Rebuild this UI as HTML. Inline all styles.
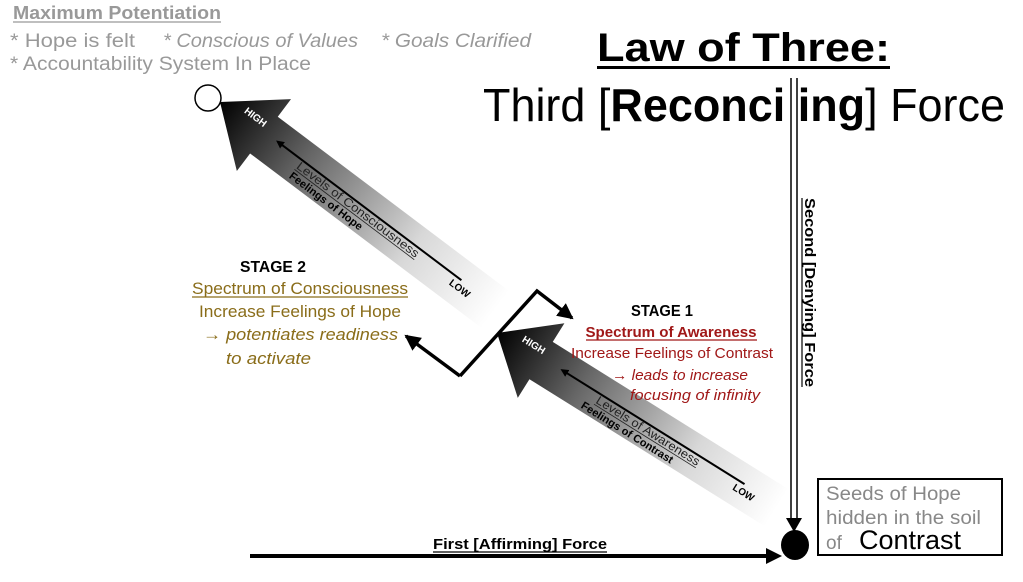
<!DOCTYPE html>
<html><head><meta charset="utf-8"><style>
html,body{margin:0;padding:0;background:#fff;}
svg{display:block;}
text{font-family:"Liberation Sans",sans-serif;}
</style></head><body>
<svg width="1023" height="582" viewBox="0 0 1023 582" xmlns="http://www.w3.org/2000/svg">
<defs>
<linearGradient id="g1" x1="0" y1="0" x2="1" y2="0">
<stop offset="0" stop-color="#000"/><stop offset="0.3" stop-color="#666"/><stop offset="0.7" stop-color="#d8d8d8"/><stop offset="1" stop-color="#fff"/>
</linearGradient>
<marker id="ah" markerWidth="8" markerHeight="8" refX="6" refY="4" orient="auto" markerUnits="userSpaceOnUse"><path d="M0,0 L8,4 L0,8 z" fill="#000"/></marker>
<marker id="ah2" markerWidth="16" markerHeight="16" refX="14" refY="8" orient="auto" markerUnits="userSpaceOnUse"><path d="M0,0 L16,8 L0,16 z" fill="#000"/></marker>
</defs>

<!-- top-left grey text -->
<text x="13" y="19" font-size="18" font-weight="bold" fill="#999" textLength="208" lengthAdjust="spacingAndGlyphs">Maximum Potentiation</text>
<line x1="13" y1="22" x2="221" y2="22" stroke="#999" stroke-width="1.3"/>
<text x="10" y="47" font-size="19" fill="#999" textLength="125" lengthAdjust="spacingAndGlyphs">* Hope is felt</text>
<text x="163" y="47" font-size="19" fill="#999" font-style="italic" textLength="195" lengthAdjust="spacingAndGlyphs">* Conscious of Values</text>
<text x="381" y="47" font-size="19" fill="#999" font-style="italic" textLength="150" lengthAdjust="spacingAndGlyphs">* Goals Clarified</text>
<text x="10" y="70" font-size="19" fill="#999" textLength="301" lengthAdjust="spacingAndGlyphs">* Accountability System In Place</text>

<!-- title -->
<text x="597" y="61" font-size="40" font-weight="bold" textLength="293" lengthAdjust="spacingAndGlyphs">Law of Three:</text>
<rect x="597" y="66" width="293" height="3" fill="#000"/>
<text x="483" y="121" font-size="46" textLength="522" lengthAdjust="spacingAndGlyphs"><tspan>Third [</tspan><tspan font-weight="bold">Reconci ing</tspan><tspan>]  Force</tspan></text>

<!-- circle top -->
<circle cx="208" cy="98" r="13" fill="#fff" stroke="#000" stroke-width="1.5"/>

<!-- upper gradient arrow -->
<g transform="translate(220,102) rotate(37)">
<polygon points="0,0 55,-45 55,-23 345,-23 345,23 55,23 55,45" fill="url(#g1)"/>
<text x="25" y="-6" font-size="10" font-weight="bold" fill="#fff">HIGH</text>
<line x1="300" y1="-3" x2="70" y2="-3" stroke="#000" stroke-width="2" marker-end="url(#ah)"/>
<text x="100" y="7" font-size="12" fill="#222" textLength="150" lengthAdjust="spacingAndGlyphs">Levels of Consciousness</text>
<line x1="100" y1="9" x2="250" y2="9" stroke="#222" stroke-width="0.8"/>
<text x="100" y="19" font-size="11" font-weight="bold" fill="#000">Feelings of Hope</text>
<text x="292" y="8" font-size="10" font-weight="bold">LOW</text>
</g>

<!-- lower gradient arrow -->
<g transform="translate(497,333) rotate(32)">
<polygon points="0,0 52,-44 52,-22 330,-22 330,22 52,22 52,44" fill="url(#g1)"/>
<text x="25" y="-6" font-size="10" font-weight="bold" fill="#fff">HIGH</text>
<line x1="290" y1="-3" x2="75" y2="-3" stroke="#000" stroke-width="2" marker-end="url(#ah)"/>
<text x="120" y="7" font-size="12" fill="#222" textLength="120" lengthAdjust="spacingAndGlyphs">Levels of Awareness</text>
<line x1="120" y1="9" x2="240" y2="9" stroke="#222" stroke-width="0.8"/>
<text x="110" y="19" font-size="11" font-weight="bold">Feelings of Contrast</text>
<text x="282" y="8" font-size="10" font-weight="bold">LOW</text>
</g>

<!-- zigzag -->
<polyline points="460,376 406,336" fill="none" stroke="#000" stroke-width="3.5" marker-end="url(#ah2)"/>
<polyline points="460,376 537,291 572,318" fill="none" stroke="#000" stroke-width="3.5" marker-end="url(#ah2)"/>

<!-- stage 2 text -->
<text x="273" y="272" font-size="16" font-weight="bold" text-anchor="middle" textLength="66" lengthAdjust="spacingAndGlyphs">STAGE 2</text>
<text x="300" y="294" font-size="17" fill="#8a6d1a" text-anchor="middle" textLength="216" lengthAdjust="spacingAndGlyphs">Spectrum of Consciousness</text>
<line x1="192" y1="297" x2="408" y2="297" stroke="#8a6d1a" stroke-width="1.2"/>
<text x="300" y="317" font-size="17" fill="#8a6d1a" text-anchor="middle" textLength="202" lengthAdjust="spacingAndGlyphs">Increase Feelings of Hope</text>
<text x="203" y="340" font-size="17" fill="#8a6d1a" font-style="italic" textLength="195" lengthAdjust="spacingAndGlyphs">→ potentiates readiness</text>
<text x="226" y="364" font-size="17" fill="#8a6d1a" font-style="italic" textLength="85" lengthAdjust="spacingAndGlyphs">to activate</text>

<!-- stage 1 text -->
<text x="662" y="316" font-size="16" font-weight="bold" text-anchor="middle" textLength="62" lengthAdjust="spacingAndGlyphs">STAGE 1</text>
<text x="671" y="337" font-size="15" font-weight="bold" fill="#a01818" text-anchor="middle" textLength="171" lengthAdjust="spacingAndGlyphs">Spectrum of Awareness</text>
<line x1="586" y1="340" x2="757" y2="340" stroke="#a01818" stroke-width="1.2"/>
<text x="672" y="358" font-size="15" fill="#a01818" text-anchor="middle" textLength="202" lengthAdjust="spacingAndGlyphs">Increase Feelings of Contrast</text>
<text x="612" y="380" font-size="15" fill="#a01818" font-style="italic" textLength="136" lengthAdjust="spacingAndGlyphs">→ leads to increase</text>
<text x="630" y="400" font-size="15" fill="#a01818" font-style="italic" textLength="130" lengthAdjust="spacingAndGlyphs">focusing of infinity</text>

<!-- vertical double line -->
<line x1="791" y1="78" x2="791" y2="522" stroke="#000" stroke-width="1.5"/>
<line x1="797" y1="78" x2="797" y2="522" stroke="#000" stroke-width="1.5"/>
<polygon points="786,518 802,518 794,532" fill="#000"/>
<text transform="translate(805,198) rotate(90)" font-size="15" font-weight="bold" textLength="189" lengthAdjust="spacingAndGlyphs">Second [Denying] Force</text>
<line x1="802" y1="198" x2="802" y2="387" stroke="#000" stroke-width="1.2"/>

<!-- circle bottom -->
<ellipse cx="795" cy="545" rx="14" ry="15" fill="#000"/>

<!-- horizontal arrow -->
<line x1="250" y1="556" x2="770" y2="556" stroke="#000" stroke-width="4"/>
<polygon points="766,548 782,556 766,564" fill="#000"/>
<text x="433" y="549" font-size="15" font-weight="bold" textLength="174" lengthAdjust="spacingAndGlyphs">First [Affirming] Force</text>
<line x1="433" y1="552" x2="607" y2="552" stroke="#000" stroke-width="1.2"/>

<!-- box -->
<rect x="818" y="479" width="184" height="76" fill="#fff" stroke="#000" stroke-width="2"/>
<text x="826" y="500" font-size="19" fill="#888" textLength="135" lengthAdjust="spacingAndGlyphs">Seeds of Hope</text>
<text x="826" y="524" font-size="19" fill="#888" textLength="155" lengthAdjust="spacingAndGlyphs">hidden in the soil</text>
<text x="826" y="549" font-size="19" fill="#888">of</text>
<text x="859" y="549" font-size="27" fill="#000" textLength="102" lengthAdjust="spacingAndGlyphs">Contrast</text>
</svg>
</body></html>
